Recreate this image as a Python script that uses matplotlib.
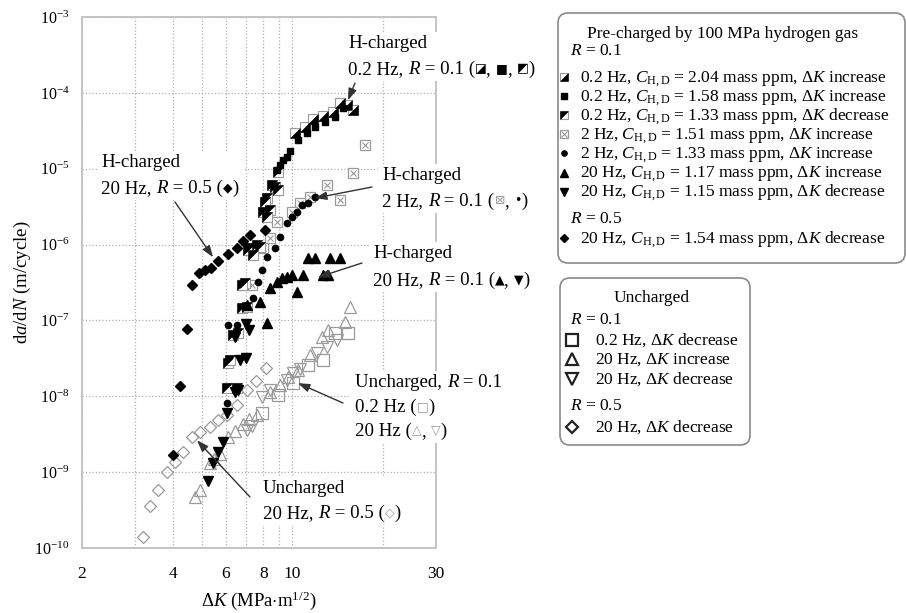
import matplotlib.pyplot as plt
from matplotlib.patches import FancyBboxPatch, Rectangle
from matplotlib.transforms import Bbox
from matplotlib.ticker import FixedLocator, FixedFormatter, NullLocator

plt.rcParams['font.family'] = ['Liberation Serif', 'DejaVu Sans']
plt.rcParams['mathtext.fontset'] = 'custom'
plt.rcParams['mathtext.rm'] = 'Liberation Serif'
plt.rcParams['mathtext.it'] = 'Liberation Serif:italic'
plt.rcParams['mathtext.bf'] = 'Liberation Serif:bold'

GRAY = '#9a9a9a'
DARK = '#333333'

# --- H-charged, R = 0.1, 0.2 Hz ---
h02a_dk = [10.2, 11.0, 11.71, 12.64, 13.64, 14.4, 15.19, 15.9]          # C = 2.04, dK increase
h02a_da = [2.95e-5, 3.6e-5, 4.5e-5, 5.0e-5, 5.6e-5, 7.3e-5, 6.9e-5, 5.93e-5]
h02b_dk = [8.89, 9.10, 9.31, 9.59, 9.82, 10.44, 11.18, 11.89, 12.84, 13.85, 14.73]  # C = 1.58
h02b_da = [9.6e-6, 1.11e-5, 1.30e-5, 1.42e-5, 1.71e-5, 2.38e-5, 2.95e-5, 3.54e-5,
           4.12e-5, 4.8e-5, 6.3e-5]
h02c_dk = [8.96, 8.55, 8.75, 8.96, 8.23, 8.11, 8.0, 8.43, 8.23, 7.63, 7.81, 7.23,
           7.40, 7.12, 6.96, 6.80, 6.80, 7.06, 6.59, 6.35, 6.11, 6.20, 6.06, 6.55]  # C = 1.33, decrease
h02c_da = [9.0e-6, 6.1e-6, 5.7e-6, 5.2e-6, 4.1e-6, 3.62e-6, 2.67e-6, 2.85e-6, 2.3e-6,
           9.8e-7, 9.2e-7, 9.0e-7, 7.2e-7, 8.4e-7, 3.1e-7, 2.9e-7, 1.45e-7, 1.49e-7,
           6.8e-8, 6.4e-8, 2.72e-8, 3.0e-8, 1.28e-8, 1.28e-8]

# --- H-charged, R = 0.1, 2 Hz ---
h2a_dk = [17.43, 15.9, 14.4, 13.03, 11.4, 10.6, 9.97, 8.89, 8.43, 8.0, 7.34, 6.85]   # C = 1.51
h2a_da = [2.05e-5, 8.75e-6, 3.85e-6, 6.1e-6, 4.2e-6, 3.5e-6, 2.67e-6, 1.98e-6,
          1.21e-6, 9.0e-7, 2.9e-7, 2.9e-7]
h2b_dk = [11.89, 11.27, 10.76, 10.36, 9.97, 9.59, 9.10, 8.75, 8.23, 7.93, 7.69, 7.40,
          6.11, 6.55, 6.06]                                                      # C = 1.33
h2b_da = [4.2e-6, 3.5e-6, 3.3e-6, 2.67e-6, 2.3e-6, 1.92e-6, 1.25e-6, 9.0e-7, 6.8e-7,
          4.6e-7, 3.2e-7, 1.96e-7, 8.6e-8, 8.6e-8, 8.1e-9]

# --- H-charged, R = 0.1, 20 Hz ---
h20up_dk = [11.27, 11.89, 13.3, 14.4, 12.64, 13.13, 10.84, 9.97, 9.59, 9.24, 8.89,
            8.43, 10.36, 7.81, 7.06, 8.23]                                       # C = 1.17, increase
h20up_da = [6.6e-7, 6.6e-7, 6.6e-7, 6.6e-7, 3.95e-7, 3.95e-7, 3.95e-7, 3.95e-7,
            3.7e-7, 3.6e-7, 3.2e-7, 2.66e-7, 2.35e-7, 1.74e-7, 1.6e-7, 9.2e-8]
h20dn_dk = [7.0, 7.2, 6.45, 6.70, 7.0, 6.6, 6.45, 6.06, 5.88, 5.66, 5.45, 5.24]       # C = 1.15, decrease
h20dn_da = [9.0e-8, 7.4e-8, 6.0e-8, 3.0e-8, 3.2e-8, 1.2e-8, 1.13e-8, 6.0e-9, 2.47e-9,
            1.82e-9, 1.3e-9, 7.6e-10]

# --- H-charged, R = 0.5, 20 Hz ---
h05_dk = [4.64, 4.90, 5.13, 5.36, 5.66, 6.11, 6.55, 6.85, 7.23, 8.11, 4.47, 4.23, 4.0]
h05_da = [2.9e-7, 4.2e-7, 4.6e-7, 4.9e-7, 6.0e-7, 7.5e-7, 9.0e-7, 1.1e-6, 1.33e-6,
          1.55e-6, 7.7e-8, 1.36e-8, 1.67e-9]

# --- Uncharged ---
u02_dk = [7.93, 8.96, 10.05, 11.27, 12.64, 13.85, 15.3]
u02_da = [6.0e-9, 1.03e-8, 1.49e-8, 2.56e-8, 2.99e-8, 6.8e-8, 6.8e-8]
u20up_dk = [4.75, 4.93, 5.32, 5.5, 5.75, 6.11, 6.45, 6.85, 7.15, 7.63, 8.43, 9.1,
            9.67, 10.44, 11.4, 12.54, 13.13, 14.96, 15.5]
u20up_da = [4.65e-10, 5.75e-10, 1.3e-9, 1.5e-9, 1.75e-9, 2.9e-9, 3.5e-9, 4.3e-9, 5.0e-9,
            5.6e-9, 1.13e-8, 1.4e-8, 1.78e-8, 2.2e-8, 3.5e-8, 6.0e-8, 7.4e-8, 9.5e-8, 1.49e-7]
u20dn_dk = [7.06, 7.34, 7.93, 8.43, 9.59, 10.05, 10.6, 12.07, 13.03, 14.07]
u20dn_da = [3.56e-9, 4.0e-9, 9.7e-9, 1.2e-8, 1.63e-8, 2.0e-8, 2.3e-8, 3.7e-8, 4.5e-8, 5.5e-8]
u05_dk = [3.19, 3.37, 3.58, 3.83, 4.07, 4.33, 4.64, 4.93, 5.32, 5.66, 6.06, 6.55,
          7.06, 7.55, 8.17]
u05_da = [1.38e-10, 3.54e-10, 5.75e-10, 9.9e-10, 1.35e-9, 1.82e-9, 2.88e-9, 3.35e-9,
          3.9e-9, 4.8e-9, 5.6e-9, 7.6e-9, 1.2e-8, 1.58e-8, 2.34e-8]

x_ticks = [2, 3, 4, 5, 6, 7, 8, 9, 10, 20, 30]
x_ticklabels = ['2', '', '4', '', '6', '', '8', '', '10', '', '30']
y_ticks = [1e-10, 1e-9, 1e-8, 1e-7, 1e-6, 1e-5, 1e-4, 1e-3]
y_ticklabels = [r'$10^{-10}$', r'$10^{-9}$', r'$10^{-8}$', r'$10^{-7}$',
                r'$10^{-6}$', r'$10^{-5}$', r'$10^{-4}$', r'$10^{-3}$']

TRI_LR = [(-1, -1), (1, -1), (1, 1), (-1, -1)]
TRI_UL = [(-1, -1), (-1, 1), (1, 1), (-1, -1)]


def half_square(axis, x, y, verts, ms):
    axis.plot(x, y, ls='none', marker='s', ms=ms, mfc='white', mec=GRAY, mew=0.8)
    axis.plot(x, y, ls='none', marker=verts, ms=ms, mfc='black', mec='black', mew=0.4)


def boxed_x(axis, x, y, ms, color=GRAY):
    axis.plot(x, y, ls='none', marker='s', ms=ms, mfc='white', mec=color, mew=0.9)
    axis.plot(x, y, ls='none', marker='x', ms=ms * 0.7, mec=color, mew=0.8)


fig = plt.figure(figsize=(9.06, 6.13), dpi=100)
ax = fig.add_axes([82 / 906, 1 - 548 / 613, 354 / 906, 531 / 613])
ax.set_xscale('log')
ax.set_yscale('log')
ax.set_xlim(2, 30)
ax.set_ylim(1e-10, 1e-3)
ax.xaxis.set_major_locator(FixedLocator(x_ticks))
ax.xaxis.set_major_formatter(FixedFormatter(x_ticklabels))
ax.yaxis.set_major_locator(FixedLocator(y_ticks))
ax.yaxis.set_major_formatter(FixedFormatter(y_ticklabels))
ax.xaxis.set_minor_locator(NullLocator())
ax.yaxis.set_minor_locator(NullLocator())
ax.tick_params(axis='x', length=0, labelsize=12.5, pad=13)
ax.tick_params(axis='y', length=0, labelsize=11.5, pad=9)
ax.grid(True, ls=':', color='#b0b0b0', lw=0.9)
ax.set_axisbelow(True)
for sp in ax.spines.values():
    sp.set_color('#c4c4c4')
    sp.set_linewidth(1.4)
ax.set_xlabel(r'$\Delta K$ (MPa$\cdot$m$^{1/2}$)', fontsize=13.5, labelpad=5)
ax.set_ylabel(r'd$a$/d$N$ (m/cycle)', fontsize=13.5, labelpad=1)

# uncharged (open gray)
ax.plot(u05_dk, u05_da, ls='none', marker='D', ms=6, mfc='none', mec=GRAY, mew=0.9)
ax.plot(u20up_dk, u20up_da, ls='none', marker='^', ms=8, mfc='none', mec=GRAY, mew=0.9)
ax.plot(u20dn_dk, u20dn_da, ls='none', marker='v', ms=8, mfc='none', mec=GRAY, mew=0.9)
ax.plot(u02_dk, u02_da, ls='none', marker='s', ms=9, mfc='none', mec=GRAY, mew=0.9)

# hydrogen-charged
boxed_x(ax, h2a_dk, h2a_da, 7)
half_square(ax, h02c_dk, h02c_da, TRI_UL, 7)
half_square(ax, h02a_dk, h02a_da, TRI_LR, 7)
ax.plot(h02b_dk, h02b_da, ls='none', marker='s', ms=4.2, color='black')
ax.plot(h2b_dk, h2b_da, ls='none', marker='o', ms=4.5, color='black')
ax.plot(h20up_dk, h20up_da, ls='none', marker='^', ms=7, color='black')
ax.plot(h20dn_dk, h20dn_da, ls='none', marker='v', ms=7, color='black')
ax.plot(h05_dk, h05_da, ls='none', marker='D', ms=5.5, color='black')

# overlay in pixel units (origin top-left) for callouts and legend boxes
ov = fig.add_axes([0, 0, 1, 1], zorder=5)
ov.set_xlim(0, 906)
ov.set_ylim(613, 0)
ov.axis('off')

ANN_FS = 13.6
SYM_LIFT = 2.0  # points; centres the symbol glyphs on the text line


def piece_style(kind):
    if kind == 'i':
        return dict(fontsize=ANN_FS, style='italic')
    if kind == 'k':
        return dict(fontsize=9, family='DejaVu Sans', color='black')
    if kind == 'g':
        return dict(fontsize=9, family='DejaVu Sans', color=GRAY)
    return dict(fontsize=ANN_FS)


def rich_line(x, y, pieces):
    arts = []
    prev = None
    prev_lift = 0.0
    for s, kind in pieces:
        kw = piece_style(kind)
        lift = SYM_LIFT if kind in ('k', 'g') else 0.0
        if prev is None:
            prev = ov.text(x, y, s, va='baseline', ha='left', zorder=3, **kw)
        else:
            prev = ov.annotate(s, xy=(1, 0), xycoords=prev, xytext=(0, lift - prev_lift),
                               textcoords='offset points', va='bottom', ha='left',
                               zorder=3, **kw)
        prev_lift = lift
        arts.append(prev)
    return arts


callouts = [
    (348, [48, 74], [[('H-charged', 'n')],
                     [('0.2 Hz, ', 'n'), ('R', 'i'), (' = 0.1 (', 'n'), ('◪', 'k'), (', ', 'n'),
                      ('■', 'k'), (', ', 'n'), ('◩', 'k'), (')', 'n')]],
     (15.3, 8.0e-5), (355, 83)),
    (101, [167, 193], [[('H-charged', 'n')],
                       [('20 Hz, ', 'n'), ('R', 'i'), (' = 0.5 (', 'n'), ('◆', 'k'), (')', 'n')]],
     (5.45, 6.8e-7), (175, 202)),
    (382, [180, 206], [[('H-charged', 'n')],
                       [('2 Hz, ', 'n'), ('R', 'i'), (' = 0.1 (', 'n'), ('⊠', 'g'), (', ', 'n'),
                        ('•', 'k'), (')', 'n')]],
     (11.89, 4.1e-6), (372, 187)),
    (373, [258, 285], [[('H-charged', 'n')],
                       [('20 Hz, ', 'n'), ('R', 'i'), (' = 0.1 (', 'n'), ('▲', 'k'), (', ', 'n'),
                        ('▼', 'k'), (')', 'n')]],
     (12.16, 3.7e-7), (362, 263)),
    (355, [387, 412, 436], [[('Uncharged, ', 'n'), ('R', 'i'), (' = 0.1', 'n')],
                            [('0.2 Hz (', 'n'), ('□', 'g'), (')', 'n')],
                            [('20 Hz (', 'n'), ('△', 'g'), (', ', 'n'), ('▽', 'g'), (')', 'n')]],
     (10.44, 1.49e-8), (343, 403)),
    (263, [493, 518], [[('Uncharged', 'n')],
                       [('20 Hz, ', 'n'), ('R', 'i'), (' = 0.5 (', 'n'), ('◇', 'g'), (')', 'n')]],
     (4.82, 2.63e-9), (250, 497)),
]

blocks = []
for x0, ys, lines, tip, tail in callouts:
    block = []
    for y, pieces in zip(ys, lines):
        block += rich_line(x0, y, pieces)
    blocks.append(block)
    ov.annotate('', xy=tip, xycoords=ax.transData, xytext=tail, textcoords='data',
                zorder=2,
                arrowprops=dict(arrowstyle='-|>,head_length=0.7,head_width=0.25',
                                color=DARK, lw=1.0, shrinkA=0, shrinkB=0,
                                mutation_scale=10))

# legend boxes
LEG_FS = 12.5
ov.add_patch(FancyBboxPatch((558, 13), 347, 250, boxstyle='round,pad=0,rounding_size=10',
                            fc='white', ec='#8a8a8a', lw=1.2, zorder=2))
ov.add_patch(FancyBboxPatch((560, 278), 190, 167, boxstyle='round,pad=0,rounding_size=10',
                            fc='white', ec='#8a8a8a', lw=1.2, zorder=2))

ov.text(587, 38.5, 'Pre-charged by 100 MPa hydrogen gas', fontsize=LEG_FS, va='baseline', zorder=3)
ov.text(570, 55, r'$R$ = 0.1', fontsize=LEG_FS, va='baseline', zorder=3)
leg1_rows = [
    r'0.2 Hz, $C_{\mathrm{H,D}}$ = 2.04 mass ppm, $\Delta K$ increase',
    r'0.2 Hz, $C_{\mathrm{H,D}}$ = 1.58 mass ppm, $\Delta K$ increase',
    r'0.2 Hz, $C_{\mathrm{H,D}}$ = 1.33 mass ppm, $\Delta K$ decrease',
    r'2 Hz, $C_{\mathrm{H,D}}$ = 1.51 mass ppm, $\Delta K$ increase',
    r'2 Hz, $C_{\mathrm{H,D}}$ = 1.33 mass ppm, $\Delta K$ increase',
    r'20 Hz, $C_{\mathrm{H,D}}$ = 1.17 mass ppm, $\Delta K$ increase',
    r'20 Hz, $C_{\mathrm{H,D}}$ = 1.15 mass ppm, $\Delta K$ decrease',
]
leg1_y = [82, 101, 120, 139, 158, 177.5, 196.5]
for y, s in zip(leg1_y, leg1_rows):
    ov.text(580, y, s, fontsize=LEG_FS, va='baseline', zorder=3)
ov.text(570, 223, r'$R$ = 0.5', fontsize=LEG_FS, va='baseline', zorder=3)
ov.text(580, 243, r'20 Hz, $C_{\mathrm{H,D}}$ = 1.54 mass ppm, $\Delta K$ decrease',
        fontsize=LEG_FS, va='baseline', zorder=3)

mx = 564
half_square(ov, [mx], [leg1_y[0] - 5], TRI_LR, 5.5)
ov.plot([mx], [leg1_y[1] - 5], ls='none', marker='s', ms=4, color='black', zorder=3)
half_square(ov, [mx], [leg1_y[2] - 5], TRI_UL, 5.5)
boxed_x(ov, [mx], [leg1_y[3] - 5], 5.5)
ov.plot([mx], [leg1_y[4] - 5], ls='none', marker='o', ms=3.8, color='black', zorder=3)
ov.plot([mx], [leg1_y[5] - 5], ls='none', marker='^', ms=5.5, color='black', zorder=3)
ov.plot([mx], [leg1_y[6] - 5], ls='none', marker='v', ms=5.5, color='black', zorder=3)
ov.plot([mx], [238], ls='none', marker='D', ms=4.5, color='black', zorder=3)

ov.text(652, 302, 'Uncharged', fontsize=LEG_FS, ha='center', va='baseline', zorder=3)
ov.text(570, 323.5, r'$R$ = 0.1', fontsize=LEG_FS, va='baseline', zorder=3)
leg2_rows = [r'0.2 Hz, $\Delta K$ decrease', r'20 Hz, $\Delta K$ increase',
             r'20 Hz, $\Delta K$ decrease']
leg2_y = [344.5, 363.5, 383.5]
for y, s in zip(leg2_y, leg2_rows):
    ov.text(595, y, s, fontsize=LEG_FS, va='baseline', zorder=3)
ov.text(570, 410.5, r'$R$ = 0.5', fontsize=LEG_FS, va='baseline', zorder=3)
ov.text(595, 431.5, r'20 Hz, $\Delta K$ decrease', fontsize=LEG_FS, va='baseline', zorder=3)
for y, m, ms in zip(leg2_y + [431.5], ['s', '^', 'v', 'D'], [8, 8.5, 8.5, 6]):
    ov.plot([572], [y - 5], ls='none', marker=m, ms=ms, mfc='none', mec='#222222',
            mew=1.6, zorder=3)

# white backing behind the callout text blocks
fig.canvas.draw()
renderer = fig.canvas.get_renderer()
inv = ov.transData.inverted()
for block in blocks:
    bb = Bbox.union([t.get_window_extent(renderer) for t in block])
    (ax0, ay0), (ax1, ay1) = inv.transform([[bb.x0, bb.y0], [bb.x1, bb.y1]])
    ov.add_patch(Rectangle((ax0 - 4, min(ay0, ay1) - 3), ax1 - ax0 + 8, abs(ay1 - ay0) + 6,
                           fc='white', ec='none', zorder=1))

fig.savefig('out.png', dpi=100)
